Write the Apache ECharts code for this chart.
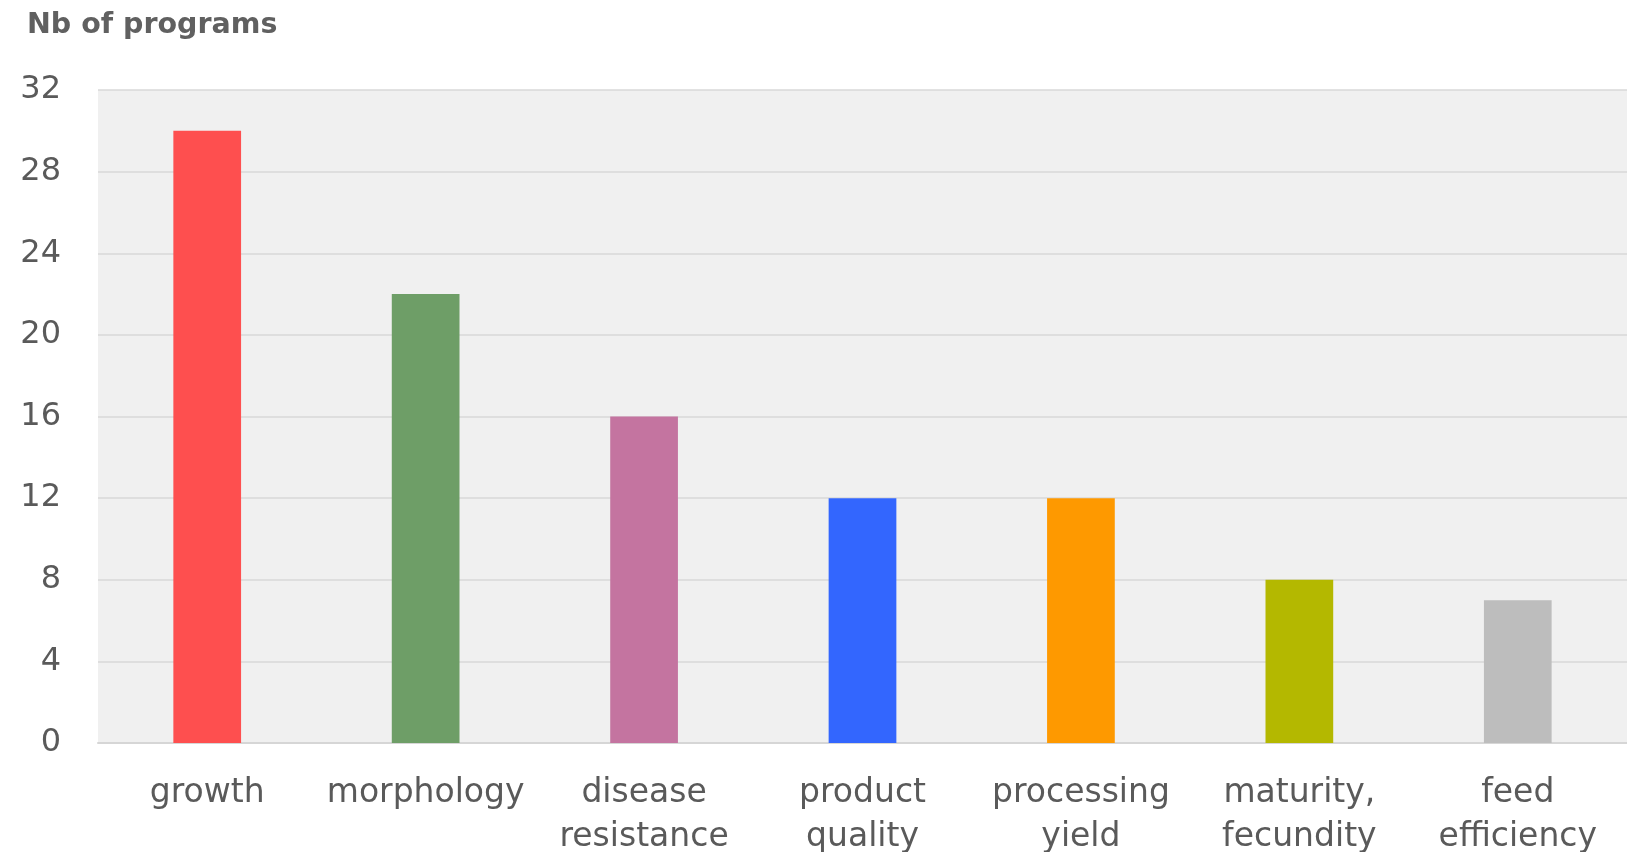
<!DOCTYPE html>
<html>
<head>
<meta charset="utf-8">
<title>Nb of programs</title>
<script src="https://cdn.jsdelivr.net/npm/echarts@6/dist/echarts.min.js"></script>
<style>
  html, body { margin: 0; padding: 0; background: #ffffff; }
  #chart { width: 1627px; height: 852px; }
</style>
</head>
<body>
<div id="chart"></div>
<script>
// Breeding objectives and how many programs target each one
const categories = [
  'growth',
  'morphology',
  'disease\nresistance',
  'product\nquality',
  'processing\nyield',
  'maturity,\nfecundity',
  'feed\nefficiency'
];
const programCounts = [30, 22, 16, 12, 12, 8, 7];
const barColors = ['#fe4f4f', '#6e9e67', '#c474a0', '#3366fe', '#fe9900', '#b4b800', '#bdbdbd'];
const yTicks = { min: 0, max: 32, interval: 4 };

const chart = echarts.init(document.getElementById('chart'), null, { renderer: 'canvas' });

chart.setOption({
  backgroundColor: '#ffffff',
  animation: false,
  title: {
    text: 'Nb of programs',
    left: 27,
    top: 11,
    padding: 0,
    textStyle: {
      fontFamily: 'DejaVu Sans',
      fontSize: 28.5,
      fontWeight: 'bold',
      color: '#606060'
    }
  },
  grid: {
    left: 98,
    right: 0,
    top: 90,
    bottom: 109,
    show: true,
    backgroundColor: '#f0f0f0',
    borderWidth: 0,
    containLabel: false,
    outerBoundsMode: 'none'
  },
  xAxis: {
    type: 'category',
    data: categories,
    axisLine: { show: true, lineStyle: { color: '#d6d6d6', width: 2 } },
    axisTick: { show: false },
    axisLabel: {
      interval: 0,
      margin: 28,
      fontFamily: 'DejaVu Sans',
      fontSize: 33,
      lineHeight: 44,
      color: '#5a5a5a',
      align: 'center'
    }
  },
  yAxis: {
    type: 'value',
    min: yTicks.min,
    max: yTicks.max,
    interval: yTicks.interval,
    axisLine: { show: false },
    axisTick: { show: false },
    splitLine: { show: true, lineStyle: { color: '#d9d9d9', width: 1.5 } },
    axisLabel: {
      margin: 37,
      fontFamily: 'DejaVu Sans',
      fontSize: 32,
      color: '#5a5a5a'
    }
  },
  series: [{
    type: 'bar',
    data: programCounts.map((v, i) => ({ value: v, itemStyle: { color: barColors[i] } })),
    barWidth: '31%'
  }]
});
</script>
</body>
</html>
